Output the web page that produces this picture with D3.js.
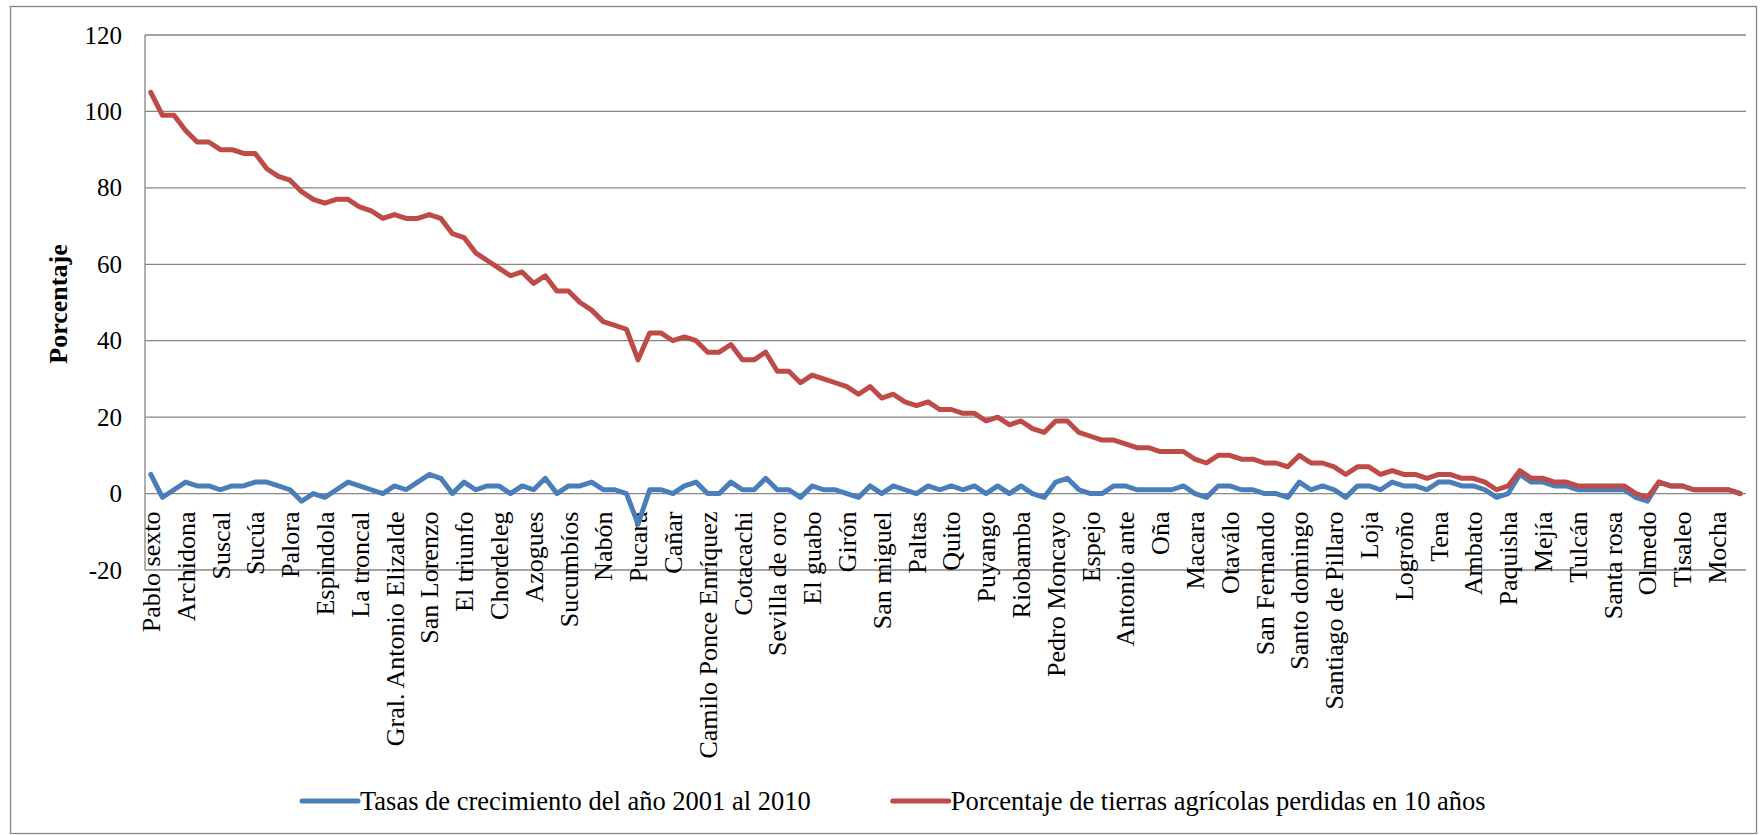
<!DOCTYPE html>
<html>
<head>
<meta charset="utf-8">
<script src="https://cdn.jsdelivr.net/npm/d3@7"></script>
<style>
  html, body { margin: 0; padding: 0; background: #fff; }
  svg { display: block; }
  text { font-family: "Liberation Serif", "Times New Roman", serif; fill: #000; }
</style>
</head>
<body>
<svg id="chart" width="1764" height="835"></svg>
<script>
// Cantones shown on the category axis (one label every third canton)
const tickLabels = [
  "Pablo sexto", "Archidona", "Suscal", "Sucúa", "Palora", "Espindola", "La troncal",
  "Gral. Antonio Elizalde", "San Lorenzo", "El triunfo", "Chordeleg", "Azogues",
  "Sucumbíos", "Nabón", "Pucara", "Cañar", "Camilo Ponce Enríquez", "Cotacachi",
  "Sevilla de oro", "El guabo", "Girón", "San miguel", "Paltas", "Quito", "Puyango",
  "Riobamba", "Pedro Moncayo", "Espejo", "Antonio ante", "Oña", "Macara", "Otaválo",
  "San Fernando", "Santo domingo", "Santiago de Pillaro", "Loja", "Logroño", "Tena",
  "Ambato", "Paquisha", "Mejía", "Tulcán", "Santa rosa", "Olmedo", "Tisaleo", "Mocha"
];
const labelEvery = 3;

// Tasas de crecimiento del año 2001 al 2010 (%)
const growthRate = [
  5, -1, 1, 3, 2, 2, 1, 2, 2, 3, 3, 2, 1, -2, 0, -1, 1, 3, 2, 1, 0, 2, 1, 3, 5, 4, 0, 3, 1, 2, 2, 0, 2, 1, 4,
  0, 2, 2, 3, 1, 1, 0, -8, 1, 1, 0, 2, 3, 0, 0, 3, 1, 1, 4, 1, 1, -1, 2, 1, 1, 0, -1, 2, 0, 2, 1, 0, 2, 1,
  2, 1, 2, 0, 2, 0, 2, 0, -1, 3, 4, 1, 0, 0, 2, 2, 1, 1, 1, 1, 2, 0, -1, 2, 2, 1, 1, 0, 0, -1, 3, 1, 2, 1, -1,
  2, 2, 1, 3, 2, 2, 1, 3, 3, 2, 2, 1, -1, 0, 5, 3, 3, 2, 2, 1, 1, 1, 1, 1, -1, -2, 3, 2, 2, 1, 1, 1, 1, 0
];

// Porcentaje de tierras agrícolas perdidas en 10 años (%)
const landLoss = [
  105, 99, 99, 95, 92, 92, 90, 90, 89, 89, 85, 83, 82, 79, 77, 76, 77, 77, 75, 74, 72, 73, 72, 72, 73, 72, 68, 67, 63, 61, 59, 57, 58, 55, 57,
  53, 53, 50, 48, 45, 44, 43, 35, 42, 42, 40, 41, 40, 37, 37, 39, 35, 35, 37, 32, 32, 29, 31, 30, 29, 28, 26, 28, 25, 26, 24, 23, 24, 22, 22,
  21, 21, 19, 20, 18, 19, 17, 16, 19, 19, 16, 15, 14, 14, 13, 12, 12, 11, 11, 11, 9, 8, 10, 10, 9, 9, 8, 8, 7, 10, 8, 8, 7, 5,
  7, 7, 5, 6, 5, 5, 4, 5, 5, 4, 4, 3, 1, 2, 6, 4, 4, 3, 3, 2, 2, 2, 2, 2, 0, -1, 3, 2, 2, 1, 1, 1, 1, 0
];

const yTicks = [-20, 0, 20, 40, 60, 80, 100, 120];

const seriesNames = [
  "Tasas de crecimiento del año 2001 al 2010",
  "Porcentaje de tierras agrícolas perdidas en 10 años"
];
const seriesColors = ["#4A7EBB", "#BE4B48"];

const FONT = '"Liberation Serif", "Times New Roman", serif';
const svg = d3.select("#chart");
const plot = { left: 145, right: 1746, top: 35, bottom: 570 };

// chart frame
svg.append("rect")
  .attr("x", 10.5).attr("y", 6.5)
  .attr("width", 1746).attr("height", 827)
  .attr("fill", "#fff").attr("stroke", "#868686").attr("stroke-width", 1.3);

const x = d3.scaleBand()
  .domain(d3.range(landLoss.length))
  .range([plot.left, plot.right]);

const y = d3.scaleLinear()
  .domain([-20, 120])
  .range([plot.bottom, plot.top]);

// value labels
const yAxis = d3.axisLeft(y)
  .tickValues(yTicks)
  .tickSize(0)
  .tickPadding(23)
  .tickFormat(d => String(d));
const gy = svg.append("g")
  .attr("transform", `translate(${plot.left},0)`)
  .call(yAxis);
gy.select(".domain").remove();
gy.selectAll("text")
  .style("font-family", FONT)
  .style("font-size", "25px")
  .attr("fill", "#000");

// horizontal gridlines
svg.append("g")
  .selectAll("line")
  .data(yTicks.filter(v => v !== 0))
  .join("line")
  .attr("x1", plot.left).attr("x2", plot.right)
  .attr("y1", d => y(d)).attr("y2", d => y(d))
  .attr("stroke", "#868686").attr("stroke-width", 1.3);

// value axis line
svg.append("line")
  .attr("x1", plot.left).attr("x2", plot.left)
  .attr("y1", plot.top).attr("y2", plot.bottom)
  .attr("stroke", "#868686").attr("stroke-width", 1.3);

// category axis sits at zero
const xAxis = d3.axisBottom(x)
  .tickValues(d3.range(0, landLoss.length, labelEvery))
  .tickSize(0)
  .tickFormat(i => tickLabels[i / labelEvery]);
const gx = svg.append("g")
  .attr("transform", `translate(0,${y(0)})`)
  .call(xAxis);
gx.select(".domain")
  .attr("d", `M${plot.left},0H${plot.right}`)
  .attr("stroke", "#868686").attr("stroke-width", 1.3);
gx.selectAll("text")
  .style("font-family", FONT)
  .style("font-size", "26px")
  .attr("fill", "#000")
  .attr("transform", "rotate(-90)")
  .attr("text-anchor", "end")
  .attr("x", -18)
  .attr("y", 0)
  .attr("dy", "0.35em");

// series lines
const line = d3.line()
  .x((d, i) => x(i) + x.bandwidth() / 2)
  .y(d => y(d));

[growthRate, landLoss].forEach((vals, k) => {
  svg.append("path")
    .datum(vals)
    .attr("fill", "none")
    .attr("stroke", seriesColors[k])
    .attr("stroke-width", 5)
    .attr("stroke-linejoin", "round")
    .attr("stroke-linecap", "round")
    .attr("d", line);
});

// value axis title
svg.append("text")
  .attr("transform", "translate(58,304) rotate(-90)")
  .attr("text-anchor", "middle")
  .attr("dy", "0.35em")
  .style("font-size", "26px")
  .style("font-weight", "bold")
  .text("Porcentaje");

// legend
const legend = svg.append("g");
let lx = 302;
const ly = 801;
seriesNames.forEach((name, k) => {
  legend.append("line")
    .attr("x1", lx).attr("x2", lx + 56)
    .attr("y1", ly).attr("y2", ly)
    .attr("stroke", seriesColors[k]).attr("stroke-width", 5)
    .attr("stroke-linecap", "round");
  const t = legend.append("text")
    .attr("x", lx + 58).attr("y", ly)
    .attr("dy", "0.35em")
    .style("font-size", "26.5px")
    .text(name);
  lx += 58 + t.node().getComputedTextLength() + 82;
});
</script>
</body>
</html>
